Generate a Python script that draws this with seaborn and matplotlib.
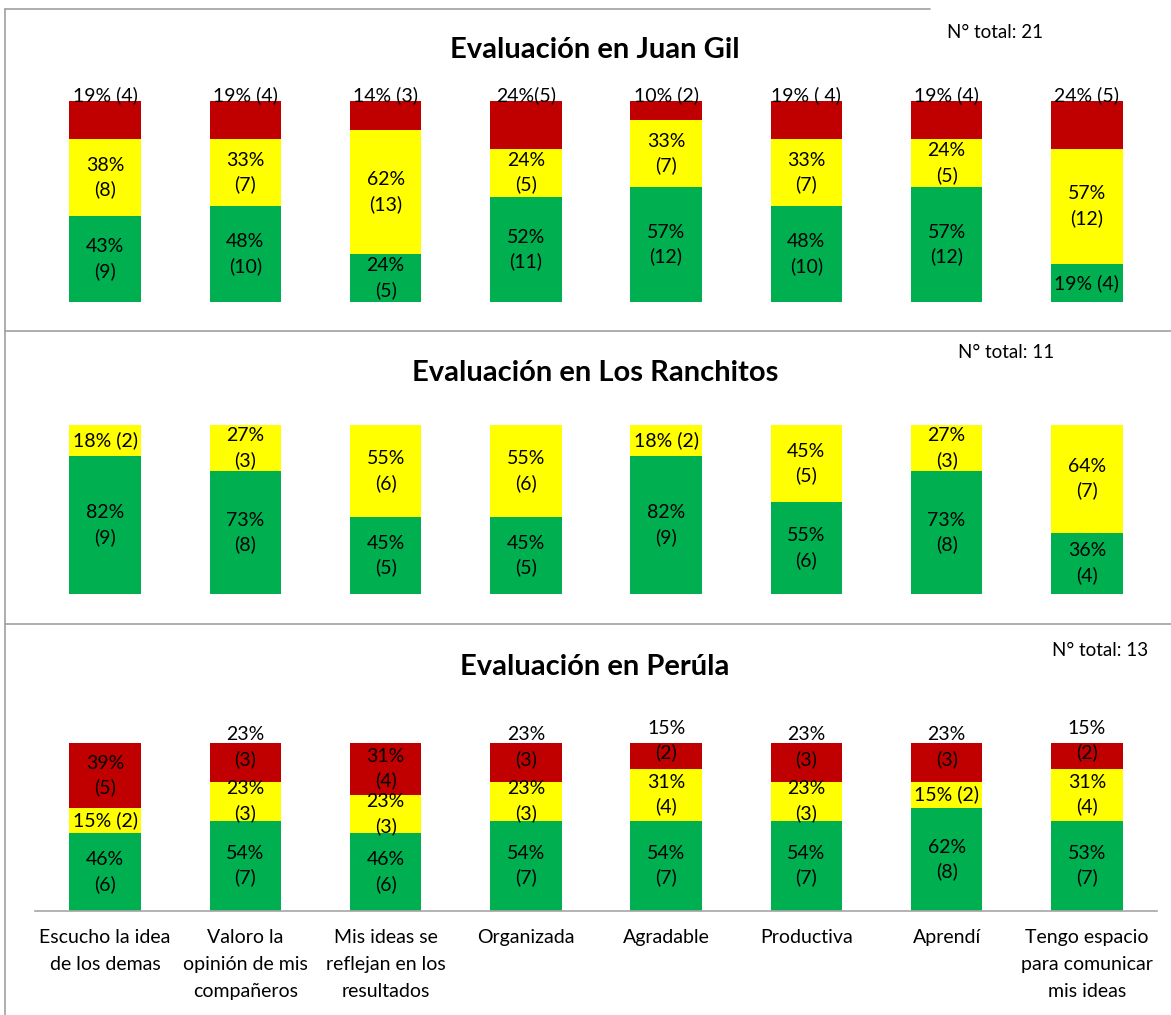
import matplotlib
matplotlib.use("Agg")
import matplotlib.pyplot as plt
from matplotlib.lines import Line2D
import numpy as np
import pandas as pd
import seaborn as sns

# --- data -------------------------------------------------------------
categories = [
    "Escucho la idea\nde los demas",
    "Valoro la\nopinión de mis\ncompañeros",
    "Mis ideas se\nreflejan en los\nresultados",
    "Organizada",
    "Agradable",
    "Productiva",
    "Aprendí",
    "Tengo espacio\npara comunicar\nmis ideas",
]

titles = ["Evaluación en Juan Gil", "Evaluación en Los Ranchitos", "Evaluación en Perúla"]
totals = [21, 11, 13]

# Juan Gil
jg_green = [9, 10, 5, 11, 12, 10, 12, 4]
jg_yellow = [8, 7, 13, 5, 7, 7, 5, 12]
jg_red = [4, 4, 3, 5, 2, 4, 4, 5]
jg_green_lbl = ["43%\n(9)", "48%\n(10)", "24%\n(5)", "52%\n(11)", "57%\n(12)", "48%\n(10)", "57%\n(12)", "19% (4)"]
jg_yellow_lbl = ["38%\n(8)", "33%\n(7)", "62%\n(13)", "24%\n(5)", "33%\n(7)", "33%\n(7)", "24%\n(5)", "57%\n(12)"]
jg_red_lbl = ["19% (4)", "19% (4)", "14% (3)", "24%(5)", "10% (2)", "19% ( 4)", "19% (4)", "24% (5)"]

# Los Ranchitos
lr_green = [9, 8, 5, 5, 9, 6, 8, 4]
lr_yellow = [2, 3, 6, 6, 2, 5, 3, 7]
lr_red = [0, 0, 0, 0, 0, 0, 0, 0]
lr_green_lbl = ["82%\n(9)", "73%\n(8)", "45%\n(5)", "45%\n(5)", "82%\n(9)", "55%\n(6)", "73%\n(8)", "36%\n(4)"]
lr_yellow_lbl = ["18% (2)", "27%\n(3)", "55%\n(6)", "55%\n(6)", "18% (2)", "45%\n(5)", "27%\n(3)", "64%\n(7)"]
lr_red_lbl = [""] * 8

# Perúla
pe_green = [6, 7, 6, 7, 7, 7, 8, 7]
pe_yellow = [2, 3, 3, 3, 4, 3, 2, 4]
pe_red = [5, 3, 4, 3, 2, 3, 3, 2]
pe_green_lbl = ["46%\n(6)", "54%\n(7)", "46%\n(6)", "54%\n(7)", "54%\n(7)", "54%\n(7)", "62%\n(8)", "53%\n(7)"]
pe_yellow_lbl = ["15% (2)", "23%\n(3)", "23%\n(3)", "23%\n(3)", "31%\n(4)", "23%\n(3)", "15% (2)", "31%\n(4)"]
pe_red_lbl = ["39%\n(5)", "23%\n(3)", "31%\n(4)", "23%\n(3)", "15%\n(2)", "23%\n(3)", "23%\n(3)", "15%\n(2)"]

GREEN, YELLOW, RED = "#00B050", "#FFFF00", "#C00000"
FONT = ["Lato", "DejaVu Sans"]
FS = 14
LS = 1.45

W, H = 1171, 1015


def fx(px):
    return px / W


def fy(py):
    return 1 - py / H


def draw_panel(ax, green, yellow, red, total, labels, red_above=False):
    df = pd.DataFrame({
        "cat": categories,
        "green": np.array(green) / total,
        "yellow": np.array(yellow) / total,
        "red": np.array(red) / total,
    })
    df["gy"] = df["green"] + df["yellow"]
    df["all"] = df["gy"] + df["red"]

    # stacked look by overplotting cumulative heights
    for col, color in [("all", RED), ("gy", YELLOW), ("green", GREEN)]:
        sns.barplot(data=df, x="cat", y=col, order=categories, color=color,
                    saturation=1, width=0.51, errorbar=None, linewidth=0, ax=ax)

    g_lbl, y_lbl, r_lbl = labels
    txt = dict(ha="center", va="center", fontsize=FS, family=FONT,
               linespacing=LS, color="black")
    for i, row in df.iterrows():
        ax.text(i, row["green"] / 2, g_lbl[i], **txt)
        ax.text(i, row["green"] + row["yellow"] / 2, y_lbl[i], **txt)
        if not r_lbl[i]:
            continue
        if red_above:
            ax.annotate(r_lbl[i], (i, row["all"]), xytext=(0, -2),
                        textcoords="offset points", ha="center", va="bottom",
                        fontsize=FS, family=FONT, color="black")
        else:
            # short red segments: label pushed up, sticking out of the bar
            shift = 11 if row["red"] < 0.25 else 0
            ax.annotate(r_lbl[i], (i, row["gy"] + row["red"] / 2),
                        xytext=(0, shift), textcoords="offset points", **txt)

    ax.set_xlim(-0.5, 7.5)
    ax.set_ylim(0, 1)
    ax.set_xlabel("")
    ax.set_ylabel("")
    ax.set_yticks([])
    for s in ax.spines.values():
        s.set_visible(False)


sns.set_theme(style="white")
plt.rcParams["font.family"] = FONT
plt.rcParams["text.color"] = "black"
plt.rcParams["xtick.color"] = "black"

fig = plt.figure(figsize=(W / 100, H / 100), dpi=100)

left, right = 35, 1157
panels = [
    (101, 302, jg_green, jg_yellow, jg_red, (jg_green_lbl, jg_yellow_lbl, jg_red_lbl), True),
    (425, 594, lr_green, lr_yellow, lr_red, (lr_green_lbl, lr_yellow_lbl, lr_red_lbl), False),
    (743, 911, pe_green, pe_yellow, pe_red, (pe_green_lbl, pe_yellow_lbl, pe_red_lbl), False),
]
axes = []
for k, (top, bot, g, y, r, lbls, above) in enumerate(panels):
    ax = fig.add_axes([fx(left), fy(bot), fx(right - left), (bot - top) / H])
    draw_panel(ax, g, y, r, totals[k], lbls, red_above=above)
    axes.append(ax)

for ax in axes[:2]:
    ax.set_xticks([])

ax3 = axes[2]
ax3.spines["bottom"].set_visible(True)
ax3.spines["bottom"].set_color("#a6a6a6")
ax3.spines["bottom"].set_linewidth(1.2)
ax3.tick_params(axis="x", length=0, pad=13)
for t in ax3.get_xticklabels():
    t.set_fontsize(FS)
    t.set_linespacing(1.7)
    t.set_family(FONT)
    t.set_color("black")

# titles and totals
title_y = [50, 373, 667]
total_pos = [(995, 32), (1006, 353), (1100, 650)]
for k in range(3):
    fig.text(fx(595), fy(title_y[k]), titles[k], ha="center", va="center",
             fontsize=21, fontweight="bold", family=FONT, color="black")
    fig.text(fx(total_pos[k][0]), fy(total_pos[k][1]), f"N° total: {totals[k]}",
             ha="center", va="center", fontsize=13.5, family=FONT, color="black")

# panel frames
frame = "#a0a0a0"
for xs, ys in [((5, 930), (9, 9)), ((5, 5), (9, 1015)),
               ((5, 1171), (331, 331)), ((5, 1171), (624, 624))]:
    fig.add_artist(Line2D([fx(xs[0]), fx(xs[1])], [fy(ys[0]), fy(ys[1])],
                          color=frame, linewidth=1.2))

fig.savefig("out.png", dpi=100)
